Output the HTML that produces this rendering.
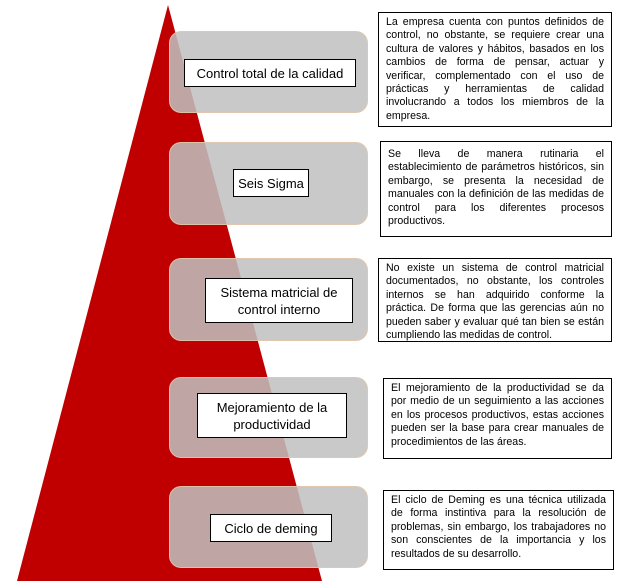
<!DOCTYPE html>
<html><head><style>
body{margin:0;width:638px;height:588px;background:#fff;position:relative;overflow:hidden;font-family:"Liberation Sans",sans-serif}
.g{position:absolute;left:169px;width:199px;background:rgba(192,192,192,0.86);border-radius:12px;border:1px solid rgba(230,200,170,0.8);box-sizing:border-box}
.l{position:absolute;background:#fff;border:1px solid #000;box-sizing:border-box;font-size:13px;text-align:center;line-height:17px;color:#000;display:flex;align-items:center;justify-content:center}
.t{position:absolute;background:#fff;border:1px solid #000;box-sizing:border-box;font-size:10.6px;line-height:13.4px;text-align:justify;padding:3px 7px;color:#000}
</style></head><body>
<svg width="638" height="588" style="position:absolute;left:0;top:0">
<polygon points="168,5 17,581 322,581" fill="#c00000"/>
</svg>
<div class="g" style="top:31px;height:82px"></div>
<div class="g" style="top:142px;height:83px"></div>
<div class="g" style="top:258px;height:83px"></div>
<div class="g" style="top:377px;height:81px"></div>
<div class="g" style="top:486px;height:82px"></div>
<div class="l" style="left:184px;top:59px;width:172px;height:28px">Control total de la calidad</div>
<div class="l" style="left:233px;top:169px;width:76px;height:28px">Seis Sigma</div>
<div class="l" style="left:205px;top:278px;width:148px;height:45px">Sistema matricial de<br>control interno</div>
<div class="l" style="left:197px;top:393px;width:150px;height:45px">Mejoramiento de la<br>productividad</div>
<div class="l" style="left:210px;top:514px;width:122px;height:28px">Ciclo de deming</div>
<div class="t" style="left:378px;top:12px;width:234px;height:115px">La empresa cuenta con puntos definidos de control, no obstante, se requiere crear una cultura de valores y hábitos, basados en los cambios de forma de pensar, actuar y verificar, complementado con el uso de prácticas y herramientas de calidad involucrando a todos los miembros de la empresa.</div>
<div class="t" style="left:380px;top:141px;width:232px;height:96px;padding-top:6px">Se lleva de manera rutinaria el establecimiento de parámetros históricos, sin embargo, se presenta la necesidad de manuales con la definición de las medidas de control para los diferentes procesos productivos.</div>
<div class="t" style="left:378px;top:258px;width:234px;height:84px">No existe un sistema de control matricial documentados, no obstante, los controles internos se han adquirido conforme la práctica. De forma que las gerencias aún no pueden saber y evaluar qué tan bien se están cumpliendo las medidas de control.</div>
<div class="t" style="left:383px;top:378px;width:229px;height:81px">El mejoramiento de la productividad se da por medio de un seguimiento a las acciones en los procesos productivos, estas acciones pueden ser la base para crear manuales de procedimientos de las áreas.</div>
<div class="t" style="left:383px;top:490px;width:231px;height:80px">El ciclo de Deming es una técnica utilizada de forma instintiva para la resolución de problemas, sin embargo, los trabajadores no son conscientes de la importancia y los resultados de su desarrollo.</div>
</body></html>
